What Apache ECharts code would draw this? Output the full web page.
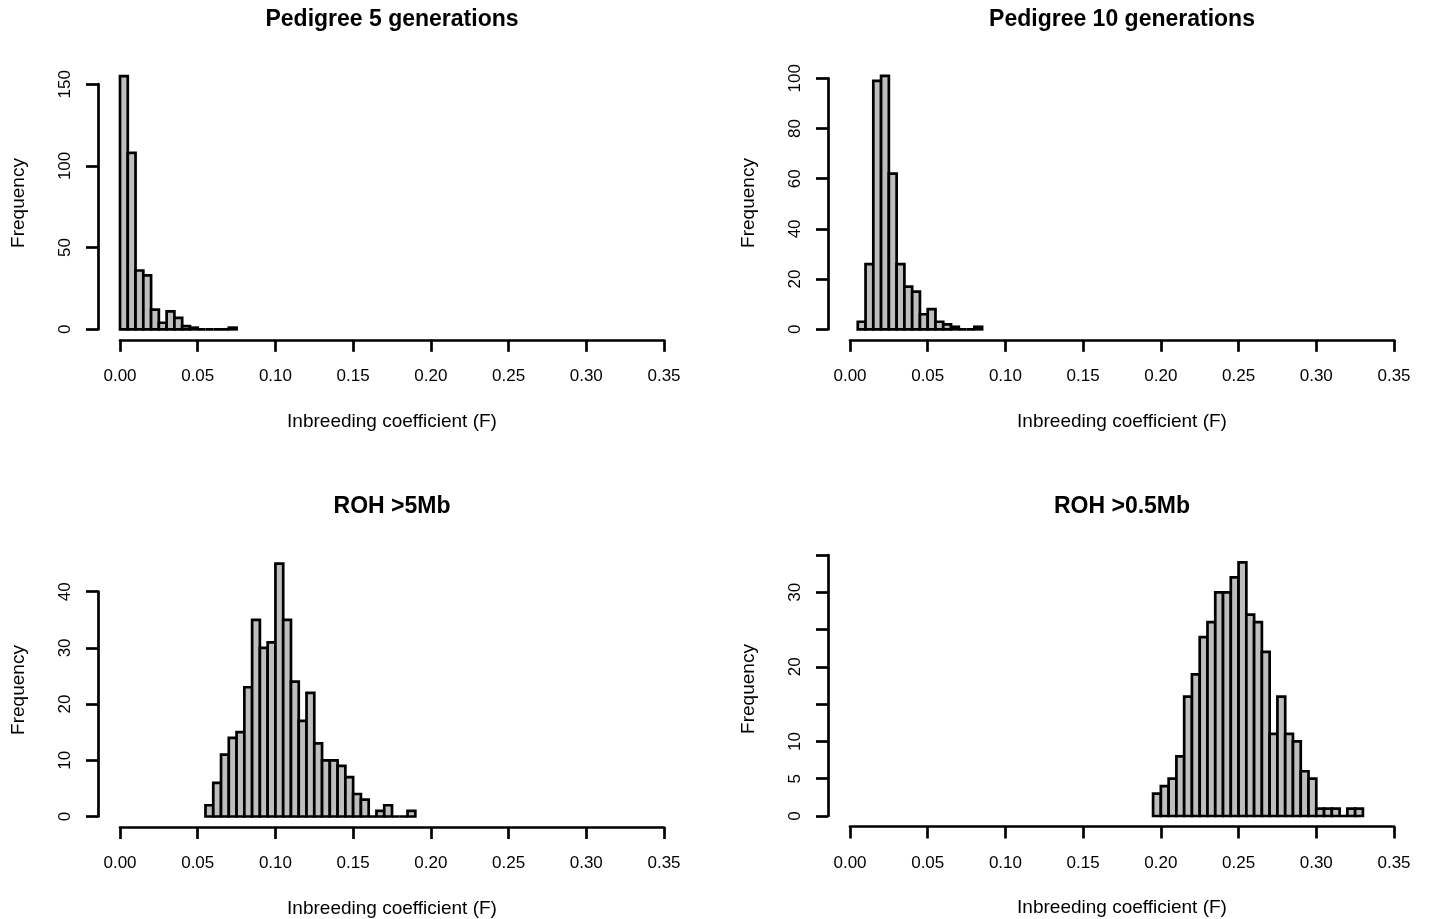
<!DOCTYPE html>
<html>
<head>
<meta charset="utf-8">
<script src="https://cdn.jsdelivr.net/npm/echarts@6/dist/echarts.min.js"></script>
<style>
html,body{margin:0;padding:0;background:#fff;}
#chart{width:1429px;height:919px;}
</style>
</head>
<body>
<div id="chart"></div>
<script>
// ---- data ----
const binWidth = 0.005;
const titles = ['Pedigree 5 generations', 'Pedigree 10 generations', 'ROH >5Mb', 'ROH >0.5Mb'];
const xTicks = [0.00, 0.05, 0.10, 0.15, 0.20, 0.25, 0.30, 0.35];

const ped5Lower = [0.000,0.005,0.010,0.015,0.020,0.025,0.030,0.035,0.040,0.045,0.050,0.055,0.060,0.065,0.070];
const ped5Counts = [155,108,36,33,12,4,11,7,2,1,0,0,0,0,1];

const ped10Lower = [0.005,0.010,0.015,0.020,0.025,0.030,0.035,0.040,0.045,0.050,0.055,0.060,0.065,0.070,0.075,0.080];
const ped10Counts = [3,26,99,101,62,26,17,15,6,8,3,2,1,0,0,1];

const roh5Lower = [0.055,0.060,0.065,0.070,0.075,0.080,0.085,0.090,0.095,0.100,0.105,0.110,0.115,0.120,0.125,0.130,0.135,0.140,0.145,0.150,0.155,0.160,0.165,0.170,0.175,0.180,0.185];
const roh5Counts = [2,6,11,14,15,23,35,30,31,45,35,24,17,22,13,10,10,9,7,4,3,0,1,2,0,0,1];

const roh05Lower = [0.195,0.200,0.205,0.210,0.215,0.220,0.225,0.230,0.235,0.240,0.245,0.250,0.255,0.260,0.265,0.270,0.275,0.280,0.285,0.290,0.295,0.300,0.305,0.310,0.315,0.320,0.325];
const roh05Counts = [3,4,5,8,16,19,24,26,30,30,32,34,27,26,22,11,16,11,10,6,5,1,1,1,0,1,1];

// y-axis tick settings per panel
const yMax = [150, 100, 40, 35];
const yStep = [50, 20, 10, 5];
const yHiddenLabels = [[], [], [], [15, 25, 35]];

// ---- layout ----
const FONT = 'Liberation Sans, Arial, Helvetica, sans-serif';
const LW = 2.7;
const panels = [
  {lower: ped5Lower, counts: ped5Counts, left: 120, top: 84.2, bottom: 329.3, titleY: 20, nameMid: 203},
  {lower: ped10Lower, counts: ped10Counts, left: 850, top: 78.3, bottom: 329.3, titleY: 20, nameMid: 203},
  {lower: roh5Lower, counts: roh5Counts, left: 120, top: 591.7, bottom: 816.7, titleY: 507, nameMid: 690},
  {lower: roh05Lower, counts: roh05Counts, left: 850, top: 555, bottom: 816, titleY: 507, nameMid: 689}
];
const plotWidth = 544;

const grids = [], xAxes = [], yAxes = [], series = [], graphics = [];

panels.forEach((p, i) => {
  grids.push({left: p.left, top: p.top, width: plotWidth, height: p.bottom - p.top});
  xAxes.push({
    type: 'value', gridIndex: i, min: xTicks[0], max: xTicks[xTicks.length - 1], interval: 0.05,
    offset: 10.5,
    splitLine: {show: false},
    axisLine: {show: true, onZero: false, lineStyle: {color: '#000', width: LW}},
    axisTick: {show: true, length: 12, lineStyle: {color: '#000', width: LW}},
    axisLabel: {color: '#000', fontSize: 17, fontFamily: FONT, margin: 28,
      formatter: v => v.toFixed(2)},
    name: 'Inbreeding coefficient (F)', nameLocation: 'middle', nameGap: 72,
    nameTextStyle: {color: '#000', fontSize: 19, fontFamily: FONT}
  });
  const hidden = yHiddenLabels[i];
  yAxes.push({
    type: 'value', gridIndex: i, min: 0, max: yMax[i], interval: yStep[i],
    offset: 22,
    splitLine: {show: false},
    axisLine: {show: true, onZero: false, lineStyle: {color: '#000', width: LW}},
    axisTick: {show: true, length: 12, lineStyle: {color: '#000', width: LW}},
    axisLabel: {color: '#000', fontSize: 17, fontFamily: FONT, margin: 24, rotate: 90,
      showMaxLabel: true, showMinLabel: true,
      formatter: v => hidden.indexOf(v) >= 0 ? '' : String(v)}
  });
  const data = p.lower.map((lo, k) => [lo, lo + binWidth, p.counts[k]]);
  series.push({
    type: 'custom', xAxisIndex: i, yAxisIndex: i, clip: false,
    encode: {x: [0, 1], y: 2},
    data: data,
    renderItem: function (params, api) {
      const a = api.coord([api.value(0), api.value(2)]);
      const b = api.coord([api.value(1), 0]);
      return {
        type: 'rect',
        shape: {x: a[0], y: a[1], width: b[0] - a[0], height: b[1] - a[1]},
        style: {fill: '#bebebe', stroke: '#000', lineWidth: LW}
      };
    }
  });
  graphics.push({
    type: 'text', x: p.left - 101, y: p.nameMid, rotation: Math.PI / 2,
    style: {text: 'Frequency', fill: '#000', font: '19px ' + FONT, textAlign: 'center', textVerticalAlign: 'middle'}
  });
  graphics.push({
    type: 'text', x: p.left - 120 + 392, y: p.titleY,
    style: {text: titles[i], fill: '#000', font: 'bold 23px ' + FONT, textAlign: 'center', textVerticalAlign: 'middle'}
  });
});

const chart = echarts.init(document.getElementById('chart'), null, {renderer: 'canvas'});
chart.setOption({
  animation: false,
  backgroundColor: '#fff',
  grid: grids,
  xAxis: xAxes,
  yAxis: yAxes,
  series: series,
  graphic: graphics
});
</script>
</body>
</html>
